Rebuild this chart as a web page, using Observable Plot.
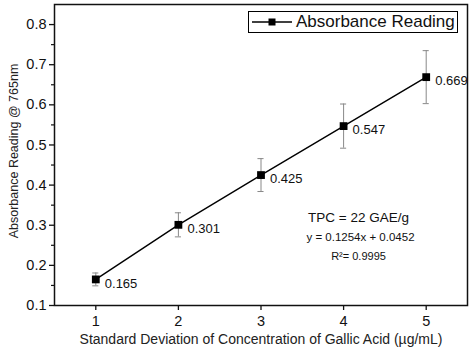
<!DOCTYPE html>
<html>
<head>
<meta charset="utf-8">
<script src="https://cdn.jsdelivr.net/npm/d3@7"></script>
<script src="https://cdn.jsdelivr.net/npm/@observablehq/plot@0.6"></script>
<style>
  html, body { margin: 0; padding: 0; background: #fff; }
  #wrap { position: relative; width: 474px; height: 355px; font-family: "Liberation Sans", Arial, sans-serif; }
  #legend { position: absolute; left: 248px; top: 11px; width: 210px; height: 22px; border: 1.2px solid #000; background: #fff;
            display: flex; align-items: center; font-size: 17px; color: #111; box-sizing: border-box; white-space: nowrap; }
  #legend svg { margin-left: 3px; margin-right: 4px; }
</style>
</head>
<body>
<div id="wrap"></div>
<script>
const concentration = [1, 2, 3, 4, 5];
const absorbance = [0.165, 0.301, 0.425, 0.547, 0.669];
const errors = [0.016, 0.03, 0.041, 0.055, 0.066];
const pointLabels = ["0.165", "0.301", "0.425", "0.547", "0.669"];
const yTicks = [0.1, 0.2, 0.3, 0.4, 0.5, 0.6, 0.7, 0.8];
const yMinorTicks = [0.15, 0.25, 0.35, 0.45, 0.55, 0.65, 0.75];
const xTicks = [1, 2, 3, 4, 5];
const seriesName = "Absorbance Reading";
const annotationLines = ["TPC = 22 GAE/g", "y = 0.1254x + 0.0452", "R²= 0.9995"];
const xLabel = "Standard Deviation of Concentration of Gallic Acid (µg/mL)";
const yLabel = "Absorbance Reading @ 765nm";

const data = concentration.map((x, i) => ({x, y: absorbance[i], e: errors[i], label: pointLabels[i]}));
const capHalf = 0.037;

const plot = Plot.plot({
  width: 474,
  height: 355,
  marginLeft: 54,
  marginRight: 7,
  marginTop: 4,
  marginBottom: 50,
  style: {fontFamily: "'Liberation Sans', Arial, sans-serif", color: "#111", background: "#fff"},
  x: {domain: [0.5, 5.5]},
  y: {domain: [0.1, 0.85]},
  marks: [
    Plot.frame({stroke: "#111", strokeWidth: 1.5}),
    Plot.axisY({ticks: yTicks, tickFormat: d3.format(".1f"), tickSize: 5, tickPadding: 3, fontSize: 14.5, strokeWidth: 1.3, label: null}),
    Plot.axisY({ticks: yMinorTicks, tickSize: 3, strokeWidth: 1.2, text: null, label: null}),
    Plot.axisX({ticks: xTicks, tickFormat: d3.format("d"), tickSize: 5, tickPadding: 5, fontSize: 14.5, strokeWidth: 1.3, label: null}),
    Plot.text([yLabel], {frameAnchor: "left", text: d => d, rotate: -90, textAnchor: "middle", dx: -41, dy: -4, fontSize: 12.5, fill: "#222"}),
    Plot.text([xLabel], {frameAnchor: "bottom", text: d => d, dy: 38, textAnchor: "middle", fontSize: 14, fill: "#222"}),
    // error bars
    Plot.ruleX(data, {x: "x", y1: d => d.y - d.e, y2: d => d.y + d.e, stroke: "#888", strokeWidth: 1}),
    Plot.ruleY(data, {y: d => d.y + d.e, x1: d => d.x - capHalf, x2: d => d.x + capHalf, stroke: "#888", strokeWidth: 1}),
    Plot.ruleY(data, {y: d => d.y - d.e, x1: d => d.x - capHalf, x2: d => d.x + capHalf, stroke: "#888", strokeWidth: 1}),
    Plot.line(data, {x: "x", y: "y", stroke: "#000", strokeWidth: 1.4}),
    Plot.dot(data, {x: "x", y: "y", symbol: "square", r: 4.4, fill: "#000", stroke: null}),
    Plot.text(data, {x: "x", y: "y", text: "label", textAnchor: "start", dx: 9, dy: 4, fontSize: 13, fill: "#111"}),
    // annotation
    Plot.text([annotationLines[0]], {frameAnchor: "top-left", text: d => d, dx: 304, dy: 208, textAnchor: "middle", fontSize: 13.5, fill: "#111"}),
    Plot.text([annotationLines[1]], {frameAnchor: "top-left", text: d => d, dx: 306, dy: 228, textAnchor: "middle", fontSize: 11.5, fill: "#111"}),
    Plot.text([annotationLines[2]], {frameAnchor: "top-left", text: d => d, dx: 304, dy: 248, textAnchor: "middle", fontSize: 11, fill: "#111"})
  ]
});

const wrap = document.getElementById("wrap");
wrap.appendChild(plot);
const legend = document.createElement("div");
legend.id = "legend";
legend.innerHTML = `<svg width="40" height="10"><line x1="0" y1="5" x2="40" y2="5" stroke="#000" stroke-width="1.4"/><rect x="16.5" y="1.5" width="7" height="7" fill="#000"/></svg><span>${seriesName}</span>`;
wrap.appendChild(legend);
</script>
</body>
</html>
